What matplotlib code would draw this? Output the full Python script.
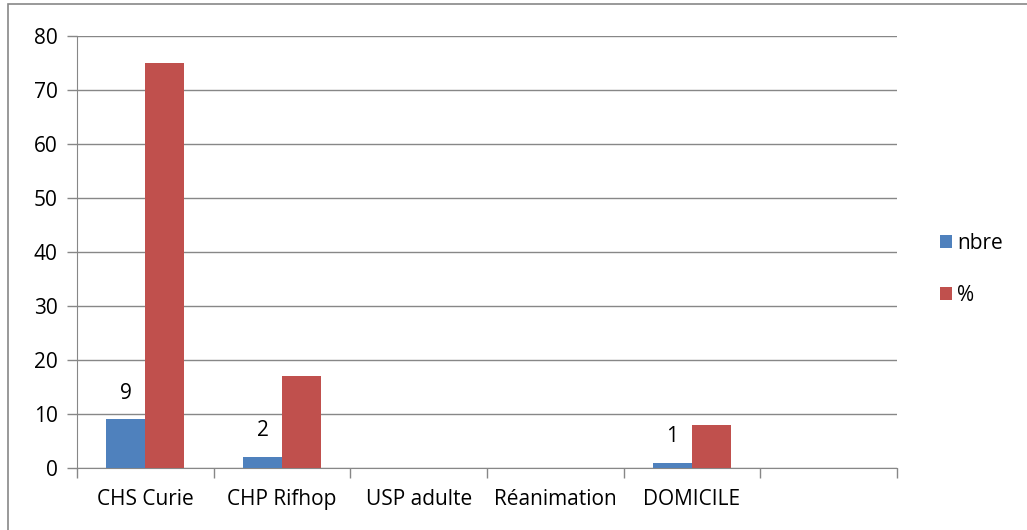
import matplotlib.pyplot as plt
import numpy as np
from matplotlib.patches import Rectangle

plt.rcParams['font.family'] = ['Open Sans', 'DejaVu Sans']

categories = ['CHS Curie', 'CHP Rifhop', 'USP adulte', 'Réanimation', 'DOMICILE', '']
nbre = [9, 2, 0, 0, 1, 0]
pct = [75, 17, 0, 0, 8, 0]

blue = '#4f81bd'
red = '#c0504d'
grey = '#878787'

fig = plt.figure(figsize=(10.27, 5.30), dpi=100)
ax = fig.add_axes([77 / 1027, 1 - 468 / 530, (897 - 77) / 1027, (468 - 36) / 530])

x = np.arange(len(categories))
w = 0.285
ax.bar(x - w / 2, nbre, w, color=blue, label='nbre', zorder=3)
ax.bar(x + w / 2, pct, w, color=red, label='%', zorder=3)

# labels only on the non-zero blue bars
for xi, v in zip(x, nbre):
    if v:
        ax.annotate(str(v), (xi - w / 2, v), xytext=(0, 19), textcoords='offset points',
                    ha='center', va='center', fontsize=15)

ax.set_xlim(-0.5, len(categories) - 0.5)
ax.set_ylim(0, 80)
ax.set_yticks(range(0, 81, 10))
ax.yaxis.grid(True, color=grey, lw=1, zorder=0)

ax.set_xticks(np.arange(-0.5, len(categories)), minor=False)
ax.set_xticklabels([])
ax.set_xticks(x, minor=True)
ax.set_xticklabels(categories, minor=True)
ax.tick_params(axis='x', which='major', length=7, color=grey, width=1)
ax.tick_params(axis='x', which='minor', length=0, pad=15, labelsize=15)
ax.tick_params(axis='y', length=7, color=grey, width=1, labelsize=15, pad=7)

for s in ['top', 'right']:
    ax.spines[s].set_visible(False)
for s in ['left', 'bottom']:
    ax.spines[s].set_color(grey)

ax.legend(loc='center left', bbox_to_anchor=(1.03, 0.46), frameon=False, fontsize=15,
          handlelength=0.55, handleheight=0.55, handletextpad=0.25, labelspacing=1.5)

fig.patches.append(Rectangle((8 / 1027, -0.05), 1.1, 1.05 - 4 / 530, transform=fig.transFigure,
                             fill=False, edgecolor=grey, lw=1.2))

fig.savefig('out.png')
